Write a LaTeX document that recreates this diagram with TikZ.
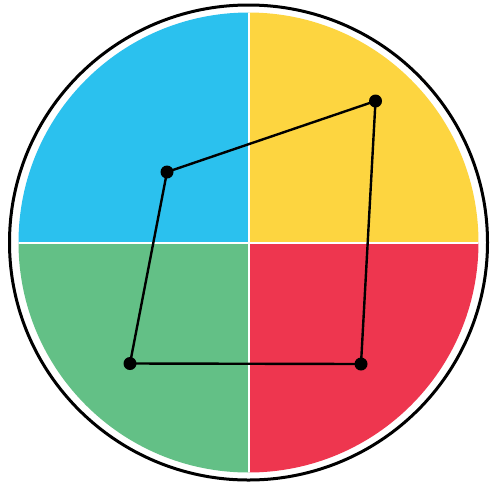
\documentclass[tikz,border=0pt]{standalone}
\definecolor{qblue}{HTML}{2BC1EE}
\definecolor{qyellow}{HTML}{FDD540}
\definecolor{qgreen}{HTML}{63C086}
\definecolor{qred}{HTML}{EE364F}
\tikzset{
  dot/.style={circle,fill=black,inner sep=0pt,minimum size=13pt},
  edge/.style={line width=2.4pt,black}
}
\begin{document}
\begin{tikzpicture}[x=1pt,y=-1pt]
\useasboundingbox (0,0) rectangle (490,483);
\fill[white] (0,0) rectangle (490,483);
\coordinate (c) at (248.5,242.5);
\begin{scope}
\clip (c) circle[radius=230];
\fill[qblue] (c) rectangle (0,0);
\fill[qyellow] (c) rectangle (490,0);
\fill[qred] (c) rectangle (490,483);
\fill[qgreen] (c) rectangle (0,483);
\draw[white,line width=2pt] (248.5,0) -- (248.5,483);
\draw[white,line width=2pt] (0,242.5) -- (490,242.5);
\end{scope}
\draw[black,line width=3pt] (c) ellipse[x radius=239,y radius=237.5];
\node[dot] (a) at (167,172) {};
\node[dot] (b) at (375.5,101) {};
\node[dot] (d) at (361,364) {};
\node[dot] (e) at (130,363.5) {};
\draw[edge] (a.center) -- (b.center) -- (d.center) -- (e.center) -- (a.center);
\end{tikzpicture}
\end{document}
